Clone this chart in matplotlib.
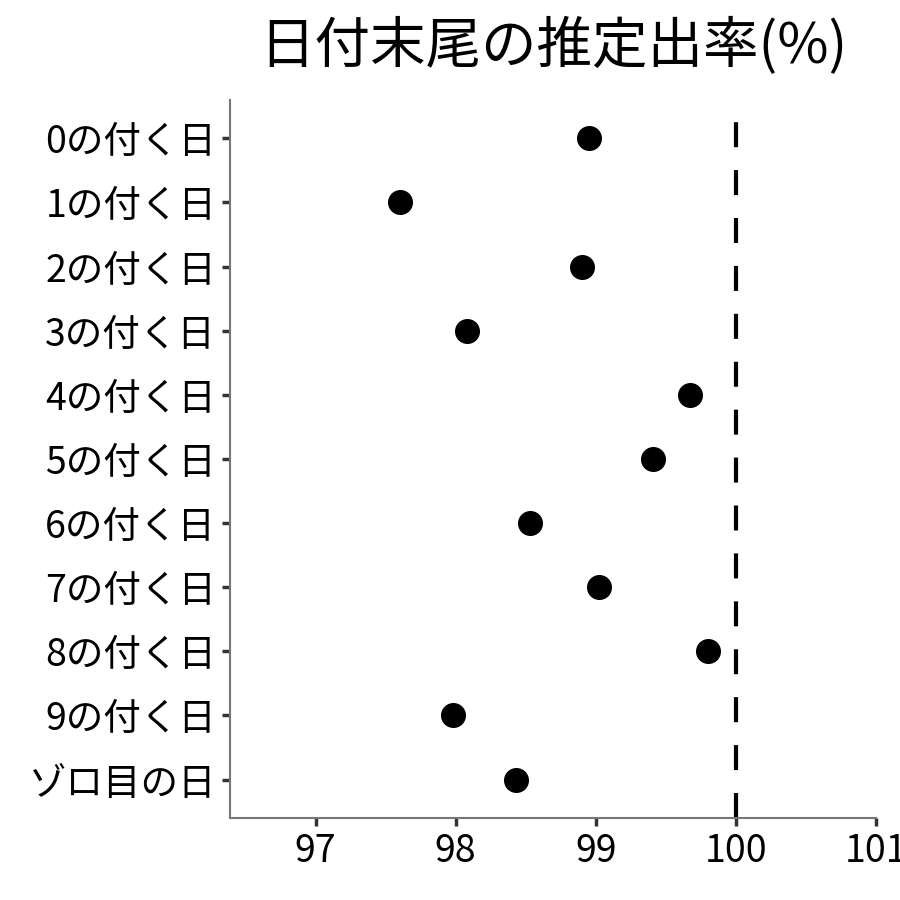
import matplotlib
matplotlib.use("Agg")
import matplotlib.pyplot as plt

plt.rcParams['font.family'] = ['Noto Sans CJK JP', 'DejaVu Sans']

labels = ['0の付く日', '1の付く日', '2の付く日', '3の付く日', '4の付く日',
          '5の付く日', '6の付く日', '7の付く日', '8の付く日', '9の付く日',
          'ゾロ目の日']
rates = [98.95, 97.60, 98.90, 98.08, 99.67, 99.41, 98.53, 99.02, 99.80, 97.98, 98.43]
xticks = [97, 98, 99, 100, 101]

fig = plt.figure(figsize=(9, 9), dpi=100)
ax = fig.add_axes([0.2556, 0.0911, 0.7178, 0.798])

ypos = list(range(1, len(labels) + 1))
ax.plot(rates, ypos, 'o', color='black', ms=17, clip_on=False)
ax.axvline(100, color='black', lw=3, ls=(0, (6, 5.5)))

ax.set_xlim(96.39, 101.0)
ax.set_ylim(11.6, 0.4)
ax.set_yticks(ypos)
ax.set_yticklabels(labels, fontsize=27)
ax.set_xticks(xticks)
ax.set_xticklabels([str(t) for t in xticks], fontsize=27)
ax.tick_params(length=6, width=2.5, color='#333333', pad=4)

for s in ['top', 'right']:
    ax.spines[s].set_visible(False)
for s in ['left', 'bottom']:
    ax.spines[s].set_color('#777777')
    ax.spines[s].set_linewidth(1.5)

fig.text(0.6144, 0.948, '日付末尾の推定出率(%)', fontsize=40, ha='center', va='center')

fig.savefig('out.png', dpi=100)
